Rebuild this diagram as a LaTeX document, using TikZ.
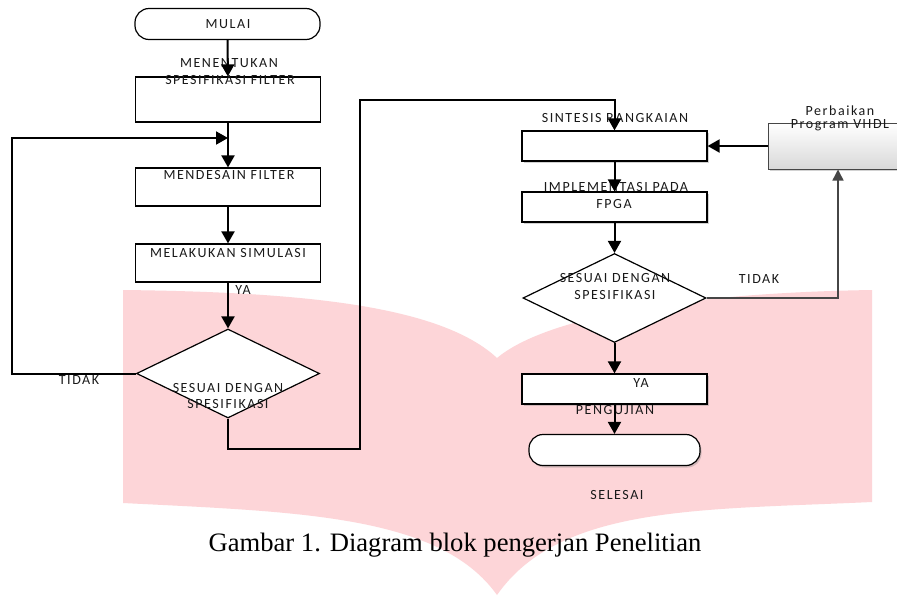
\documentclass[tikz,border=0pt]{standalone}
\usepackage{fontspec}
\setmainfont{Liberation Serif}
\newfontfamily\flowfont[LetterSpace=11]{Carlito}
\usepackage{xcolor}
\usepackage{tikz}
\usetikzlibrary{arrows.meta,shapes.geometric,shadows,positioning}
\definecolor{bookpink}{RGB}{253,213,216}
\definecolor{abu}{RGB}{70,70,70}

\begin{document}
\begin{tikzpicture}[x=1pt,y=-1pt,
	tulisan/.style={font=\flowfont\fontsize{14}{16}\selectfont,inner sep=0pt,text=black!90},
	kotak/.style={draw,line width=1.2pt,fill=white,minimum width=185pt,minimum height=#1,inner sep=0pt},
	terminal/.style={draw,line width=1.2pt,fill=white,rounded corners=14pt,minimum height=31pt,minimum width=#1,inner sep=0pt},
	keputusan/.style={diamond,draw,line width=1.2pt,fill=white,minimum width=183pt,minimum height=89pt,inner sep=0pt},
	panah/.style={line width=2pt,-{Triangle[width=13pt,length=12pt]}},
	panahabu/.style={line width=1.5pt,draw=abu,-{Triangle[width=11pt,length=11pt]}},
	bayang/.style={drop shadow={opacity=0.35,shadow xshift=1.5pt,shadow yshift=-2pt}}]
	\useasboundingbox (0,0) rectangle (897,595);
	\fill[white] (0,0) rectangle (897,595);
	\fill[bookpink] (123,290) .. controls (300,292) and (440,305) .. (497,358)
		.. controls (545,318) and (680,293) .. (872,290) -- (872,502)
		.. controls (700,510) and (560,505) .. (497,595)
		.. controls (440,515) and (300,512) .. (123,503) -- cycle;

	\node[terminal=185pt] (mulai) at (227.5,24) {};
	\node[kotak=45pt] (b1) at (228,99.5) {};
	\node[kotak=38pt] (b2) at (228,187) {};
	\node[kotak=38pt] (b3) at (228,263) {};
	\node[keputusan] (d1) at (228,373.5) {};
	\node[kotak=30pt,bayang] (b4) at (614.5,146) {};
	\node[kotak=30pt,bayang] (b5) at (614.5,207) {};
	\node[keputusan] (d2) at (614.5,298) {};
	\node[kotak=30pt,bayang] (b6) at (614.5,389) {};
	\node[terminal=171pt,bayang] (selesai) at (614.5,450) {};
	\node[draw=abu,line width=1pt,top color=white,bottom color=black!15,minimum width=140pt,minimum height=46pt,inner sep=0pt,bayang] (pb) at (838,146) {};

	\node[tulisan] (tmulai) at (228,24) {MULAI};
	\node[tulisan] (tb1a) at (229,63) {MENENTUKAN};
	\node[tulisan] (tb1b) at (230,80) {SPESIFIKASI FILTER};
	\node[tulisan] (tb2) at (229,175) {MENDESAIN FILTER};
	\node[tulisan] (tb3) at (228,253) {MELAKUKAN SIMULASI};
	\node[tulisan] (ya1) at (243,290) {YA};
	\node[tulisan] (td1a) at (228,388) {SESUAI DENGAN};
	\node[tulisan] (td1b) at (228,404) {SPESIFIKASI};
	\node[tulisan] (tidak1) at (79,380) {TIDAK};
	\node[tulisan] (tb4) at (615,118) {SINTESIS RANGKAIAN};
	\node[tulisan] (tb5a) at (616,187) {IMPLEMENTASI PADA};
	\node[tulisan] (tb5b) at (614,204) {FPGA};
	\node[tulisan] (td2a) at (615,278) {SESUAI DENGAN};
	\node[tulisan] (td2b) at (615,295) {SPESIFIKASI};
	\node[tulisan] (tidak2) at (759,279) {TIDAK};
	\node[tulisan] (ya2) at (641,383) {YA};
	\node[tulisan] (tb6) at (615,410) {PENGUJIAN};
	\node[tulisan] (tselesai) at (617,495) {SELESAI};
	\node[tulisan] (tpb1) at (840,111) {Perbaikan};
	\node[tulisan] (tpb2) at (840,125) {Program VHDL};
	\node[font=\fontsize{26.6}{30}\selectfont,inner sep=0pt] (judul) at (455,545) {Gambar 1. Diagram blok pengerjan Penelitian};

	\coordinate (gabung) at (228,138);
	\coordinate (kiri) at (12,373.5);
	\coordinate (bawah) at (360,449);
	\coordinate (atas) at (360,100);
	\draw[panah] (mulai) -- (b1);
	\draw[panah] (b1) -- (b2);
	\draw[panah] (d1.west) -- (kiri) |- (gabung);
	\draw[panah] (b2) -- (b3);
	\draw[panah] (b3) -- (d1);
	\draw[panah] (d1.south) |- (bawah) -- (atas) -| (b4.north);
	\draw[panah] (pb.west) -- (b4.east);
	\draw[panah] (b4) -- (b5);
	\draw[panah] (b5) -- (d2);
	\draw[panahabu] (d2.east) -| (pb.south);
	\draw[panah] (d2) -- (b6);
	\draw[panah] (b6) -- (selesai);
\end{tikzpicture}
\end{document}
